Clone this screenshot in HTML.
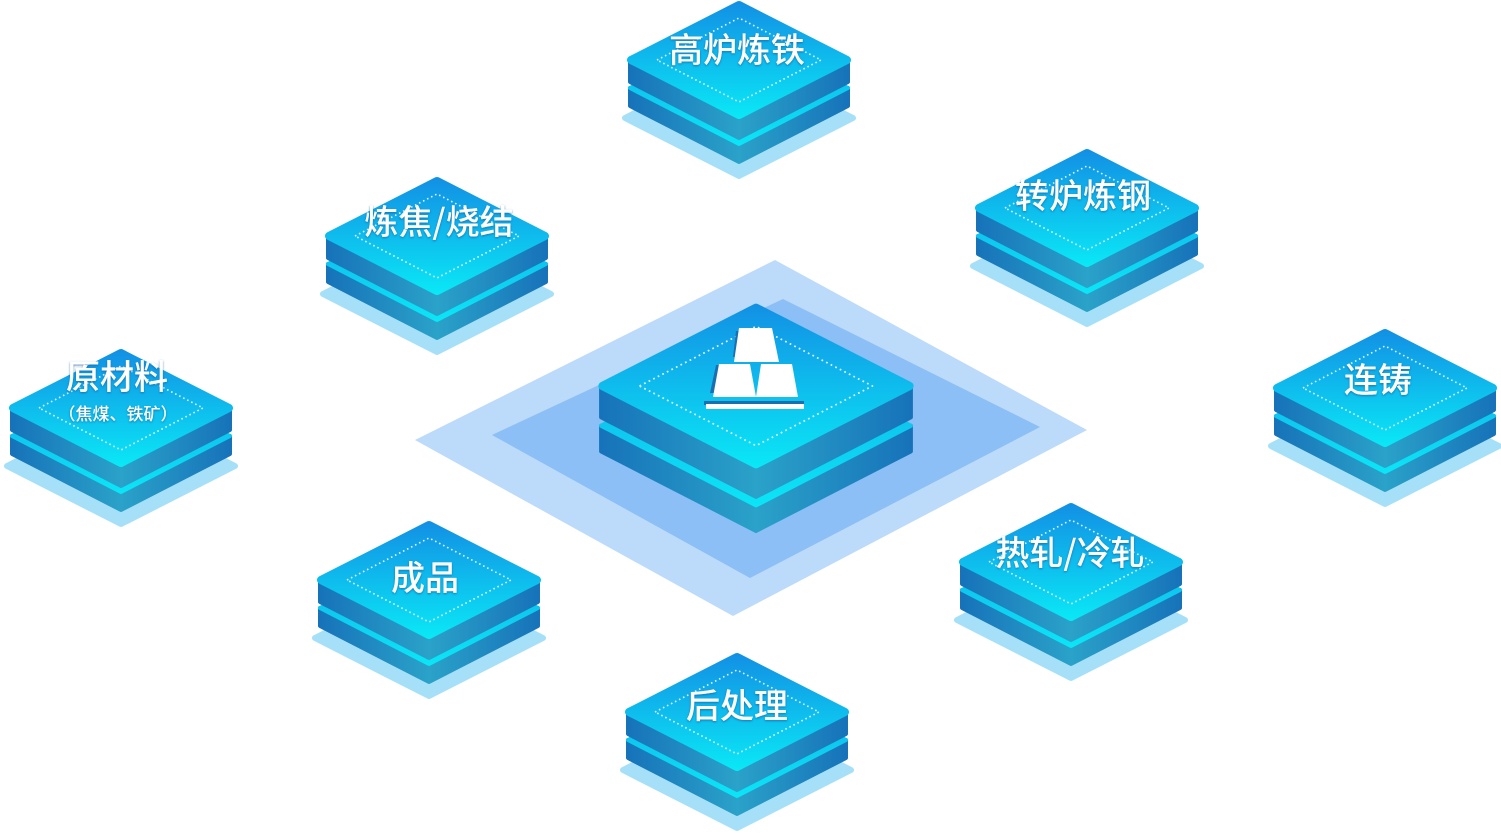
<!DOCTYPE html>
<html><head><meta charset="utf-8"><style>
html,body{margin:0;padding:0;background:#fff;}
svg{display:block;}
text{font-family:"Noto Sans CJK SC","Liberation Sans",sans-serif;fill:#fff;text-anchor:middle;font-weight:500;}
</style></head><body>
<svg width="1501" height="834" viewBox="0 0 1501 834" xmlns="http://www.w3.org/2000/svg">
<defs>
<linearGradient id="side" gradientUnits="userSpaceOnUse" x1="-111" y1="0" x2="111" y2="0">
<stop offset="0" stop-color="#1672b9"/><stop offset="0.5" stop-color="#2aa2c9"/><stop offset="1" stop-color="#1672b9"/></linearGradient>
<linearGradient id="top" gradientUnits="userSpaceOnUse" x1="0" y1="-58" x2="0" y2="58">
<stop offset="0" stop-color="#1290e4"/><stop offset="1" stop-color="#0ae8f6"/></linearGradient>
<linearGradient id="mid" gradientUnits="userSpaceOnUse" x1="0" y1="-30" x2="0" y2="86">
<stop offset="0" stop-color="#12a8e8"/><stop offset="1" stop-color="#0be6f6"/></linearGradient>
<filter id="ts" x="-20%" y="-20%" width="140%" height="140%"><feDropShadow dx="0" dy="1" stdDeviation="1" flood-color="#0a5a9a" flood-opacity="0.7"/></filter>
<g id="tile">
<polygon points="-114,58 0,0 114,58 0,116" fill="#a6e0f8" stroke="#a6e0f8" stroke-width="6" stroke-linejoin="round"/>
<path d="M-109,28 L0,84 L109,28 L109,46 L0,102 L-109,46 Z" fill="url(#side)" stroke="url(#side)" stroke-width="4" stroke-linejoin="round"/>
<polygon points="-109,28 0,-28 109,28 0,84" fill="url(#mid)" stroke="url(#mid)" stroke-width="4" stroke-linejoin="round"/>
<path d="M-109,0 L0,56 L109,0 L109,22 L0,78 L-109,22 Z" fill="url(#side)" stroke="url(#side)" stroke-width="4" stroke-linejoin="round"/>
<polygon points="-108,0 0,-55 108,0 0,55" fill="url(#top)" stroke="url(#top)" stroke-width="8" stroke-linejoin="round"/>
<polygon points="-82,0 0,-42 82,0 0,42" fill="none" stroke="#fff" stroke-width="1.6" stroke-dasharray="1.5 3" stroke-linejoin="round" opacity="0.9"/>
</g>
</defs>

<polygon points="775,260 1087,430 733,616 415,440" fill="#bcdafa"/>
<polygon points="783,299 1040,427 750,578 492,435" fill="#8bbff5"/>

<use href="#tile" transform="translate(739,60)"/>
<use href="#tile" transform="translate(437,236)"/>
<use href="#tile" transform="translate(1087,208)"/>
<use href="#tile" transform="translate(121,408)"/>
<use href="#tile" transform="translate(1385,388)"/>
<use href="#tile" transform="translate(429,580)"/>
<use href="#tile" transform="translate(1071,562)"/>
<use href="#tile" transform="translate(737,712)"/>

<g transform="translate(756,386) scale(1.42)">
<path d="M-109,28 L0,84 L109,28 L109,46 L0,102 L-109,46 Z" fill="url(#side)" stroke="url(#side)" stroke-width="3" stroke-linejoin="round"/>
<polygon points="-109,28 0,-28 109,28 0,84" fill="url(#mid)" stroke="url(#mid)" stroke-width="3" stroke-linejoin="round"/>
<path d="M-109,0 L0,56 L109,0 L109,22 L0,78 L-109,22 Z" fill="url(#side)" stroke="url(#side)" stroke-width="3" stroke-linejoin="round"/>
<polygon points="-108,0 0,-55 108,0 0,55" fill="url(#top)" stroke="url(#top)" stroke-width="6" stroke-linejoin="round"/>
<polygon points="-82,0 0,-42 82,0 0,42" fill="none" stroke="#fff" stroke-width="1.2" stroke-dasharray="1.2 2.4" stroke-linejoin="round" opacity="0.9"/>
</g>
<g>
<polygon points="736,331 770,331 776,357 733,357" fill="#1a6fb0"/>
<polygon points="739,328 772,328 779,362 734,362" fill="#fff"/>
<polygon points="716,365 748,365 753,393 710,393" fill="#1a6fb0"/>
<polygon points="719,364 750,364 756,397 713,397" fill="#fff"/>
<polygon points="761,364 792,364 798,397 756,397" fill="#fff"/>
<rect x="704" y="401" width="100" height="4" fill="#1a6fb0"/>
<rect x="706" y="404" width="98" height="5" fill="#fff"/>
</g>

<g filter="url(#ts)">
<text x="737" y="62" font-size="34">高炉炼铁</text>
<text x="439" y="234" font-size="34">炼焦/烧结</text>
<text x="1083" y="208" font-size="34">转炉炼钢</text>
<text x="117" y="389" font-size="34">原材料</text>
<text x="118" y="420" font-size="17">（焦煤、铁矿）</text>
<text x="1378" y="392" font-size="34">连铸</text>
<text x="425" y="590" font-size="34">成品</text>
<text x="1070" y="565" font-size="34">热轧/冷轧</text>
<text x="737" y="718" font-size="34">后处理</text>
</g>
</svg>
</body></html>
